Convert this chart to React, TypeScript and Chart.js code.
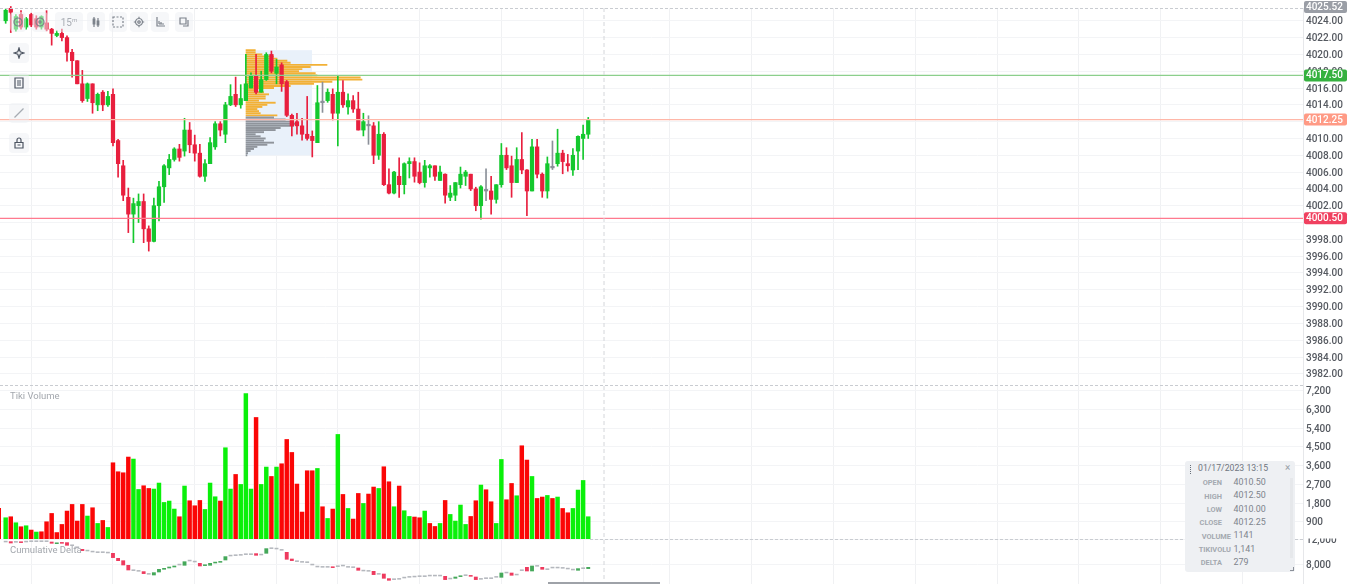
import React, { useEffect, useRef } from "react";
import { Chart, registerables } from "chart.js";

Chart.register(...registerables);

const opens = [4024,4025.5,4023,4024.75,4023.25,4024.75,4024.25,4023.25,4023.75,4023,
4022.25,4022.5,4022,4020.25,4019.25,4016.5,4014.75,4016.5,4014,4015.5,
4014,4015.25,4009.75,4006.75,4003,4001,4002,4002.5,3999.25,3997.75,
4002,4004.25,4006.5,4007.5,4008.75,4008.5,4011,4009.25,4008.25,4005.5,
4007,4009,4011.75,4010.5,4014,4015.25,4014,4014.5,4016,4017.5,
4015.5,4017,4020,4017.75,4018.75,4016.75,4012.75,4012,4011.5,4010.5,
4010.25,4009.5,4014.25,4014.5,4015.25,4013,4015.5,4013.75,4014.5,4013.5,
4011,4011.5,4011.5,4008,4010.5,4004.5,4003.5,4005.5,4004.5,4007,
4007.25,4006,4004.75,4006.5,4006.75,4005,4005.75,4003,4003.25,4004.5,
4005.5,4005.75,4004,4002,4003.75,4003.75,4002.75,4004.5,4008,4006.75,
4004.75,4007.5,4006.25,4003.75,4009,4005.75,4003.75,4006.5,4007,4008.25,
4007,4006.25,4008.5,4010,4010.5];

const closes = [4025.25,4025,4024.5,4023.25,4024.25,4023.5,4023.25,4024.5,4023,4022.5,
4022.5,4022,4020.25,4019.25,4016.5,4014.5,4016.5,4014.25,4015.25,4014,
4015,4009.5,4007,4003.25,4001,4002.25,4002.5,3999.25,3997.75,4002,
4004.25,4006.75,4007.5,4008.75,4007.75,4011,4009.25,4008.25,4005.5,4007,
4009.5,4011.75,4011,4014,4015,4014,4014.75,4016.5,4017.5,4015.5,
4017,4020,4018,4018.5,4016.5,4012.75,4011.5,4011.5,4010.5,4010,
4009.75,4014.25,4014.25,4015.5,4013,4015.5,4014,4014.5,4013.5,4011,
4012,4011.5,4008,4010.5,4004.5,4003.5,4006,4004.5,4007,4007.25,
4005.5,4004.75,4006.75,4006.75,4005.5,4006,4003.25,4003.5,4004.75,4005.75,
4006,4004,4002,4004.25,4003.75,4002.75,4004.5,4008,4006.5,4004.75,
4007.5,4006.25,4003.75,4009,4005.75,4003.75,4007,4006.5,4008.25,4007.25,
4006.75,4008,4010.25,4010.5,4012.25];

const highs = [4025.4,4025.7,4024.75,4025.2,4024.4,4024.9,4024.6,4024.6,4025.2,4023.1,
4022.8,4023,4022.2,4020.6,4019.25,4018.1,4016.6,4016.5,4015.4,4015.7,
4015.6,4015.9,4009.9,4007.4,4004.1,4002.9,4003.4,4003.4,3999.6,4002.9,
4004.9,4006.9,4008.1,4008.9,4009.3,4012.4,4011.9,4010.4,4009.3,4007.5,
4010.1,4012,4012,4014.3,4016.4,4017.3,4016.4,4020,4017.8,4020,
4018,4020.2,4020.4,4019.4,4019,4016.9,4012.9,4013,4012.4,4015,
4010.9,4016.3,4016.7,4015.9,4015.9,4017.5,4016.9,4015.3,4015.1,4015.5,
4013,4012.7,4011.9,4012,4010.7,4006.4,4006.1,4007.7,4007.1,4007.7,
4007.7,4007.1,4007.4,4006.9,4006.75,4006.7,4005.8,4004.4,4004.75,4006.6,
4006.2,4005.75,4004.2,4004.4,4006.4,4005.5,4004.5,4009.4,4008.9,4007.9,
4008.9,4010.7,4006.3,4009.9,4009.9,4005.9,4007.8,4009.7,4011.1,4008.6,
4008.1,4008.8,4010.3,4011.6,4012.5];

const lows = [4023.7,4022.6,4022.75,4023,4023,4023.3,4023,4023,4022.8,4021.1,
4022.1,4021.6,4019.2,4017.3,4016.5,4014.3,4014.4,4013,4013.3,4013.3,
4013.8,4009.1,4005.4,4002.6,3998.8,3997.6,4000,3997.6,3996.6,3997.7,
4000.2,4002.4,4005.7,4007.3,4007.3,4007.9,4008.3,4007.3,4005.4,4004.9,
4007,4008.7,4010.3,4009.5,4013.9,4013.8,4013.6,4014.5,4016,4015.3,
4015.5,4016.9,4017.8,4016.5,4015.6,4012.6,4010.3,4010.5,4009.8,4009.8,
4007.8,4009.5,4013.1,4014.3,4012.2,4009.1,4013.7,4012.9,4013.1,4011,
4010.3,4009.3,4007,4007.5,4004.4,4003.4,4003.4,4003,4003.4,4005.3,
4004.8,4004.6,4004.2,4005.4,4005,4005,4002.3,4002.6,4002.6,4004.1,
4004.4,4003.8,4001.4,4000.4,4002.6,4001,4002.3,4004.2,4006.3,4003,
4004.75,4005.8,4000.8,4003.75,4005.3,4003,4002.9,4006.3,4006.7,4005.8,
4006.1,4005.6,4006.3,4007.5,4010];

// First entry belongs to the partly hidden bar left of the first candle.
const volumes = [1544,
1092,1140,851,659,707,500,404,418,899,1299,
380,770,1414,1732,933,1732,1174,1573,818,962,
625,3737,3305,3256,4012,3915,2453,2631,2501,2472,
2761,1828,1895,1510,1140,2617,1910,1669,1924,1491,
2761,2102,1895,4459,2472,3175,2694,7071,2472,5916,
2694,3530,3078,3530,3689,4858,4233,2713,1366,3353,
3353,3463,1621,1058,1510,5099,2213,1539,1029,2261,
1780,2232,2569,2501,3545,2823,1621,2617,1429,1154,
1126,1092,1414,818,673,818,1924,1251,933,1703,
770,1154,1910,2665,2439,1861,818,3896,1958,2742,
2150,4555,3867,3078,2020,2088,2165,2020,2088,1539,
1332,1539,2424,2886,1141];

const volumeUp = [0,
1,0,1,0,1,0,1,0,0,0,
0,0,0,0,0,0,1,0,1,0,
1,0,0,0,0,1,1,0,0,1,
1,1,1,1,0,1,0,0,0,1,
1,1,0,1,1,0,1,1,1,0,
1,1,0,1,0,0,0,0,0,0,
0,1,0,1,0,1,0,1,0,0,
1,0,0,1,0,0,1,0,1,1,
0,0,1,0,0,1,0,1,1,1,
1,0,0,1,0,0,1,1,0,0,
1,0,0,1,0,0,1,0,1,0,
0,1,1,1,1];

const deltaOpen = [11520,11580,11470,11520,11520,11580,11580,11580,11580,11520,
11250,11360,11420,10930,10610,10350,10080,9920,9820,9820,
9760,9710,8910,8530,7790,6940,6830,6780,6350,6240,
6720,7150,7360,7520,7840,7790,8480,8320,8110,7740,
7790,8160,8270,8640,9280,9340,9390,9500,9500,9660,
9440,9710,10460,10400,10190,9870,8800,8380,8270,8220,
7840,7520,7470,7470,7520,7580,7680,7470,7420,7360,
6880,6830,6830,6350,6400,5660,5500,5550,5760,5870,
5920,5980,5980,6080,6080,6080,6030,5600,5710,5980,
6140,6140,5920,5550,5660,5660,5870,5870,6560,6560,
6240,6940,7470,6880,7630,7470,7100,7360,7360,7310,
7200,7040,6990,7260,7260];

const deltaClose = [11520,11360,11470,11420,11520,11580,11580,11580,11580,11310,
11360,11310,10990,10930,10610,10140,10080,9920,9820,9820,
9760,9020,8530,7840,7040,6940,6830,6460,6350,6620,
7150,7310,7520,7680,7840,8370,8480,8320,7680,7790,
8110,8270,8380,9180,9280,9340,9390,9500,9500,9390,
9440,10460,10460,10400,10190,8750,8540,8380,8270,8220,
7840,7520,7470,7470,7420,7580,7680,7470,7420,6990,
6880,6830,6300,6350,5710,5390,5500,5550,5760,5870,
5920,5980,5980,6080,6080,6080,5500,5600,5920,6080,
6140,6030,5500,5550,5660,5660,5870,6560,6560,6190,
6240,6940,6880,7680,7630,7150,7100,7360,7360,7310,
7200,7040,7260,7260,7470];

const profilePrices = [4020.5,4020.25,4020,4019.75,4019.5,4019.25,4019,4018.75,4018.5,4018.25,
4018,4017.75,4017.5,4017.25,4017,4016.75,4016.5,4016.25,4016,4015.75,
4015.5,4015.25,4015,4014.75,4014.5,4014.25,4014,4013.75,4013.5,4013.25,
4013,4012.75,4012.5,4012.25,4012,4011.75,4011.5,4011.25,4011,4010.75,
4010.5,4010.25,4010,4009.75,4009.5,4009.25,4009,4008.75,4008.5,4008.25,4008];
const profileVolumes = [93,93,160,277,310,410,443,810,643,560,
527,693,710,1143,1160,860,677,443,277,110,
177,227,193,193,127,293,210,160,110,127,
143,310,277,393,477,493,477,343,293,177,
93,143,193,177,277,210,110,77,43,17,10];
const profileValueAreaEnd = 31; // last row of the orange value area

const priceTicks = [4024,4022,4020,4018,4016,4014,4012,4010,4008,4006,4004,4002,4000,3998,3996,3994,3992,3990,3988,3986,3984,3982];
const priceTicksUnderPills = [4012, 4000];
const volumeTicks = [900,1800,2700,3600,4500,5400,6300,7200];
const deltaTicks = [8000,12000];
const gridBars = [6,22,38,54,66,82,98,114,131,147,163,179,195,211,227,243];

const levels = [
  { price: 4017.5, label: "4017.50", line: "#8ccf8c", pill: "#35b13f" },
  { price: 4012.25, label: "4012.25", line: "#ffb7a8", pill: "#ff9a85" },
  { price: 4000.5, label: "4000.50", line: "#ff7a8e", pill: "#f0405f" },
];
const lastPriceLabel = "4025.52";

const infoTitle = "01/17/2023 13:15";
const infoRows = [
  { name: "OPEN", value: "4010.50" },
  { name: "HIGH", value: "4012.50" },
  { name: "LOW", value: "4010.00" },
  { name: "CLOSE", value: "4012.25" },
  { name: "VOLUME", value: "1141" },
  { name: "TIKIVOLU", value: "1,141" },
  { name: "DELTA", value: "279" },
];

const GREEN = "#14c82e";
const RED = "#e81f3e";
const GRAY = "#8b9099";
const FONT = "Roboto, sans-serif";

const candleColor = (o: number, c: number) => (c > o ? GREEN : c < o ? RED : GRAY);

const overlay = {
  id: "overlay",
  beforeDatasetsDraw(chart: any) {
    const { ctx, scales } = chart;
    const x0 = scales.xProfile.getPixelForValue(0);
    const x1 = scales.xProfile.getPixelForValue(660);
    const top = scales.y.getPixelForValue(profilePrices[0]);
    const bottom = scales.y.getPixelForValue(profilePrices[profilePrices.length - 1]);
    ctx.save();
    ctx.fillStyle = "#e9f1fa";
    ctx.fillRect(x0, top, x1 - x0, bottom - top);
    ctx.restore();
  },
  afterDraw(chart: any) {
    const { ctx, chartArea, scales } = chart;
    ctx.save();
    // separators between panes, and crosshair
    ctx.strokeStyle = "#c9ccd1";
    ctx.lineWidth = 1;
    ctx.setLineDash([3, 2]);
    for (const y of [scales.y.top + 0.5, scales.y.bottom + 0.5, scales.vol.bottom + 0.5]) {
      ctx.beginPath();
      ctx.moveTo(y > 500 ? 590 : chartArea.left, y);
      ctx.lineTo(chartArea.right, y);
      ctx.stroke();
    }
    ctx.setLineDash([4, 3]);
    ctx.strokeStyle = "#d4d6da";
    ctx.beginPath();
    ctx.moveTo(604, chartArea.top);
    ctx.lineTo(604, chartArea.bottom);
    ctx.stroke();
    ctx.setLineDash([]);
    // the 12,000 label is cut by the pane edge
    ctx.fillStyle = "#fff";
    ctx.fillRect(1304, 529, 44, 9.5);
    // price pills
    const pill = (y: number, fill: string, text: string) => {
      ctx.fillStyle = fill;
      ctx.beginPath();
      ctx.roundRect(1304, y - 6, 43, 12, 2);
      ctx.fill();
      ctx.fillStyle = "#fff";
      ctx.font = `500 10px ${FONT}`;
      ctx.textAlign = "left";
      ctx.textBaseline = "middle";
      ctx.fillText(text, 1306, y + 0.5);
    };
    pill(7, "#9a9ea6", lastPriceLabel);
    for (const l of levels) pill(scales.y.getPixelForValue(l.price), l.pill, l.label);
    ctx.restore();
  },
};

const iconStroke = "#5f6672";

function Btn({ x, y, w, h, dim, children }: any) {
  return (
    <div
      style={{
        position: "absolute", left: x, top: y, width: w, height: h, borderRadius: 4,
        background: "rgba(238,240,243,0.5)", display: "flex", alignItems: "center",
        justifyContent: "center", opacity: dim ?? 1,
      }}
    >
      {children}
    </div>
  );
}

function Ico({ d, c = iconStroke, s = 12 }: any) {
  return (
    <svg width={s} height={s} viewBox="0 0 12 12" fill="none" stroke={c} strokeWidth={1.2}>
      <path d={d} />
    </svg>
  );
}

export default function App() {
  const ref = useRef<HTMLCanvasElement | null>(null);

  useEffect(() => {
    const bars = opens.map((_, i) => i + 1);
    const fixedY = (ticks: number[]) => (s: any) => {
      s.ticks = ticks.map((value) => ({ value }));
    };
    const yBase = {
      position: "right",
      stack: "panes",
      offset: false,
      grid: { color: "#f3f4f6", lineWidth: 1, drawTicks: false, offset: false },
      border: { display: true, color: "#e6e7ea" },
      afterFit: (s: any) => { s.width = 45; s.paddingTop = 0; s.paddingBottom = 0; },
    };
    const tickStyle = {
      color: "#555960", padding: 3, autoSkip: false, labelOffset: 1,
      font: { family: FONT, size: 10, weight: "500" },
    };
    const chart = new Chart(ref.current as HTMLCanvasElement, {
      type: "bar",
      data: {
        datasets: [
          ...levels.map((l) => ({
            type: "line",
            yAxisID: "y",
            xAxisID: "x",
            data: [{ x: -0.2, y: l.price }, { x: 255, y: l.price }],
            borderColor: l.line,
            borderWidth: 1.2,
            pointRadius: 0,
            order: 1,
          })),
          {
            yAxisID: "y", xAxisID: "x", grouped: false, order: 2,
            barThickness: 3.6, minBarLength: 1.6,
            data: bars.map((b, i) => ({ x: b, y: [opens[i], closes[i]] })),
            backgroundColor: bars.map((_, i) => candleColor(opens[i], closes[i])),
          },
          {
            yAxisID: "y", xAxisID: "x", grouped: false, order: 3,
            barThickness: 1, clip: false,
            data: bars.map((b, i) => ({ x: b, y: [lows[i], highs[i]] })),
            backgroundColor: bars.map((_, i) => candleColor(opens[i], closes[i])),
          },
          {
            yAxisID: "y", xAxisID: "xProfile", indexAxis: "y", grouped: false, order: 5,
            barThickness: 1.25,
            data: profilePrices.map((p, i) => ({ x: profileVolumes[i], y: p })),
            backgroundColor: profilePrices.map((_, i) => (i < profileValueAreaEnd + 1 ? "#f2b136" : "#8f949b")),
          },
          {
            yAxisID: "vol", xAxisID: "x", grouped: false, order: 2,
            barThickness: 3.8,
            data: volumes.map((v, i) => ({ x: i === 0 ? -0.35 : i, y: v })),
            backgroundColor: volumeUp.map((u) => (u ? "#0af00a" : "#fb0606")),
          },
          {
            yAxisID: "delta", xAxisID: "x", grouped: false, order: 2,
            barThickness: 3.2, minBarLength: 0.9,
            data: bars.map((b, i) => ({ x: b, y: [deltaOpen[i], deltaClose[i]] })),
            backgroundColor: bars.map((_, i) =>
              deltaClose[i] > deltaOpen[i] ? "#45a85a" : deltaClose[i] < deltaOpen[i] ? "#ee3a5e" : "#b4b7bd"
            ),
          },
        ],
      } as any,
      options: {
        animation: false,
        responsive: false,
        devicePixelRatio: 1,
        layout: { autoPadding: false, padding: { top: 8, left: 0, right: 0, bottom: 0 } },
        plugins: { legend: { display: false }, tooltip: { enabled: false }, title: { display: false } },
        scales: {
          x: {
            type: "linear", min: -0.11, max: 254.87, position: "bottom", offset: false,
            grid: { color: "#f0f1f3", drawTicks: false, offset: false },
            border: { display: false },
            ticks: { display: false },
            afterBuildTicks: (s: any) => { s.ticks = gridBars.map((value) => ({ value })); },
            afterFit: (s: any) => { s.height = 0; s.paddingLeft = 0; s.paddingRight = 0; },
          },
          xProfile: {
            type: "linear", min: -2460, max: 10570, display: false, offset: false,
          },
          y: {
            ...yBase, type: "linear", stackWeight: 377, min: 3980.67, max: 4025.52,
            afterBuildTicks: fixedY(priceTicks),
            ticks: {
              ...tickStyle,
              callback: (v: any) => (priceTicksUnderPills.includes(Number(v)) ? "" : Number(v).toFixed(2)),
            },
          },
          vol: {
            ...yBase, type: "linear", stackWeight: 154, min: 70, max: 7478,
            afterBuildTicks: fixedY(volumeTicks),
            ticks: { ...tickStyle, callback: (v: any) => Number(v).toLocaleString("en-US") },
          },
          delta: {
            ...yBase, type: "linear", stackWeight: 45, min: 4800, max: 12000,
            afterBuildTicks: fixedY(deltaTicks),
            ticks: { ...tickStyle, callback: (v: any) => Number(v).toLocaleString("en-US") },
          },
        },
      } as any,
      plugins: [overlay],
    } as any);
    return () => chart.destroy();
  }, []);

  const rowTop = (i: number) => 477 + i * 13.35;

  return (
    <div style={{ position: "fixed", left: 0, top: 0, width: 1348, height: 584, overflow: "hidden", background: "#fff" }}>
      <div style={{ position: "absolute", left: 0, top: 0, width: 1348, height: 584, filter: "blur(0.55px)", fontFamily: FONT }}>
        <canvas ref={ref} width={1348} height={584} style={{ display: "block" }} />

        <div style={{ position: "absolute", left: 10, top: 390, fontSize: 9.5, color: "#a3a7ad" }}>Tiki Volume</div>
        <div style={{ position: "absolute", left: 10, top: 544, fontSize: 9.5, color: "#a3a7ad" }}>Cumulative Delta</div>

        {/* top toolbar */}
        <Btn x={10} y={12} w={16} h={20}><Ico c="#7a8088" d="M2 6a4 4 0 1 0 8 0a4 4 0 1 0-8 0M4 6h4" /></Btn>
        <Btn x={32} y={12} w={16} h={20}><Ico c="#7a8088" d="M2 6a4 4 0 1 0 8 0a4 4 0 1 0-8 0M4 6h4M6 4v4" /></Btn>
        <Btn x={55} y={12} w={28} h={20}>
          <span style={{ fontSize: 10, color: "#a9adb4" }}>15<sup style={{ fontSize: 6 }}>m</sup></span>
        </Btn>
        <Btn x={87} y={12} w={18} h={20}><Ico c="#7c828b" d="M4 1v10M8 2v9M3.2 3h1.6v5H3.2zM7.2 5h1.6v4H7.2z" /></Btn>
        <Btn x={109} y={12} w={18} h={20}><svg width={12} height={12}><rect x="1" y="1" width="10" height="10" fill="none" stroke="#7c828b" strokeDasharray="2 1.5" strokeWidth="1.2" /></svg></Btn>
        <Btn x={130} y={12} w={18} h={20}><Ico c="#7c828b" d="M6 2.5a3.5 3.5 0 1 0 .01 0M6 4.8a1.2 1.2 0 1 0 .01 0M6 .8v1.5M6 9.7v1.5M.8 6h1.5M9.7 6h1.5" /></Btn>
        <Btn x={151} y={12} w={18} h={20}><Ico c="#7c828b" d="M3 1v9h8M5 8h5M5 5v3M7 6v2" /></Btn>
        <Btn x={175} y={12} w={18} h={20}><Ico c="#7c828b" d="M2 2h6v6H2zM10 4v6H5" /></Btn>

        {/* side toolbar */}
        <Btn x={9} y={43} w={20} h={20}><Ico c="#4d5562" d="M6 1l1.2 3.8L11 6 7.2 7.2 6 11 4.8 7.2 1 6l3.8-1.2z" /></Btn>
        <Btn x={9} y={73} w={20} h={20}><Ico c="#4d5562" d="M2 1h8v10H2zM4 4h4M4 6h4M4 8h4" /></Btn>
        <Btn x={9} y={103} w={20} h={20}><Ico c="#a6abb2" d="M1.5 10.5L10.5 1.5" /></Btn>
        <Btn x={9} y={133} w={20} h={20}><Ico c="#4d5562" d="M2 5.5h8v5.5H2zM4 5.5V3a2 2 0 0 1 4 0v2.5M4.5 8h3" /></Btn>

        {/* info panel */}
        <div style={{ position: "absolute", left: 1185, top: 461, width: 110, height: 111, borderRadius: 3, background: "#eef0f3" }}>
          <div style={{ position: "absolute", left: 5, top: 4, width: 2, height: 9, borderLeft: "1.5px dotted #666d78" }} />
          <div style={{ position: "absolute", left: 13, top: 2, fontSize: 8.7, color: "#6e7580", whiteSpace: "nowrap" }}>{infoTitle}</div>
          <div style={{ position: "absolute", left: 100, top: 1, fontSize: 10, color: "#9aa0a8" }}>×</div>
          <div style={{ position: "absolute", left: 105, top: 17, width: 3, height: 80, background: "#e6e8eb" }} />
          <div style={{ position: "absolute", left: 105, top: 106, width: 3, height: 3, borderRight: "1px solid #8b9099", borderBottom: "1px solid #8b9099" }} />
        </div>
        {infoRows.map((r, i) => (
          <React.Fragment key={r.name}>
            <div style={{
              position: "absolute", top: rowTop(i) + 1.2, left: 1190, width: r.name.length > 5 ? 41 : 32,
              textAlign: "right", fontSize: 7.4, fontWeight: 700, color: "#a4a9b0", whiteSpace: "nowrap",
            }}>{r.name}</div>
            <div style={{ position: "absolute", top: rowTop(i), left: 1233.5, fontSize: 8.9, color: "#7d838c", whiteSpace: "nowrap" }}>{r.value}</div>
          </React.Fragment>
        ))}

        {/* scroll thumb at the bottom edge */}
        <div style={{ position: "absolute", left: 548, top: 582, width: 112, height: 2, background: "#9ea2a8" }} />
      </div>
    </div>
  );
}
